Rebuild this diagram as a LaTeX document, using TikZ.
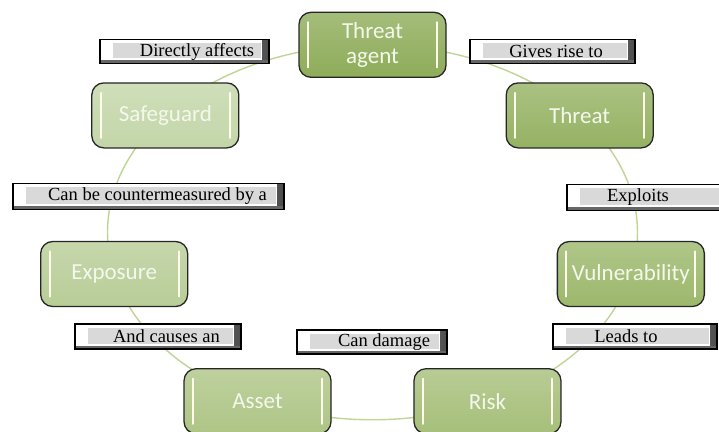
\documentclass[tikz,border=0pt]{standalone}
\usepackage{fontspec}
\setmainfont{Liberation Serif}
\newfontfamily\stagefont{Carlito}
\usetikzlibrary{backgrounds}

% palette
\definecolor{ringline}{HTML}{BFD495}
\definecolor{gAgent}{HTML}{8EAC59}
\definecolor{gThreat}{HTML}{95B263}
\definecolor{gVuln}{HTML}{9CB86C}
\definecolor{gRisk}{HTML}{A6BF7A}
\definecolor{gAsset}{HTML}{AEC586}
\definecolor{gExpo}{HTML}{B8CD97}
\definecolor{gSafe}{HTML}{C3D6A8}
\definecolor{stagetext}{HTML}{F4F8EC}
\definecolor{tagfill}{HTML}{D9D9D9}

% fixed-width caption line, text moved right by half of #2
\newcommand\tagline[3]{\makebox[#1pt]{\hspace*{#2pt}#3}}

\tikzset{
  stage/.style={
    rounded corners=12pt, draw=black!85, line width=1.3pt,
    minimum width=147pt, minimum height=65pt, inner sep=2pt,
    font=\stagefont\fontsize{23}{25}\selectfont, text=stagetext, align=center,
    top color=#1!80!white, bottom color=#1,
    path picture={
      \draw[white!92!yellow, line width=2.2pt, line cap=round]
        ([xshift=9pt,yshift=-10pt]path picture bounding box.north west) --
        ([xshift=9pt,yshift=10pt]path picture bounding box.south west);
      \draw[white!92!yellow, line width=2.2pt, line cap=round]
        ([xshift=-9pt,yshift=-10pt]path picture bounding box.north east) --
        ([xshift=-9pt,yshift=10pt]path picture bounding box.south east);
    }},
  tag/.style={
    draw=black, line width=1.2pt, fill=white, inner sep=0pt,
    minimum height=24pt, font=\fontsize{18.5}{20}\selectfont,
    path picture={
      \shade[left color=white, right color=black!70]
        ([xshift=-7pt]path picture bounding box.north east) rectangle
        (path picture bounding box.south east);
      \fill[black!60] (path picture bounding box.south west) rectangle
        ([yshift=3pt]path picture bounding box.south east);
      \fill[tagfill] ([xshift=13pt,yshift=-4pt]path picture bounding box.north west)
        rectangle ([xshift=-8pt,yshift=5pt]path picture bounding box.south east);
    }},
  ring/.style={draw=ringline, line width=1.4pt},
}

\begin{document}
\begin{tikzpicture}[x=1pt,y=1pt]
\useasboundingbox (0,0) rectangle (719,431);
\coordinate (hub) at (372.5,198.7);

% the seven stages, evenly spaced round the ellipse
\path (hub) ++(90:265 and 187.5)      node[stage=gAgent]  (agent)  {Threat\\agent};
\path (hub) ++(38.571:265 and 187.5)  node[stage=gThreat] (threat) {Threat};
\path (hub) ++(-12.857:265 and 187.5) node[stage=gVuln]   (vuln)   {Vulnerability};
\path (hub) ++(-64.286:265 and 187.5) node[stage=gRisk]   (risk)   {Risk};
\path (hub) ++(-115.714:265 and 187.5) node[stage=gAsset] (asset)  {Asset};
\path (hub) ++(192.857:265 and 187.5) node[stage=gExpo]   (expo)   {Exposure};
\path (hub) ++(141.429:265 and 187.5) node[stage=gSafe]   (safe)   {Safeguard};

% captions on the links
\node[tag, minimum width=169pt] (t1) at (184.5,379.5) {\tagline{169}{25}{Directly affects}};
\node[tag, minimum width=165pt] (t2) at (552.5,379.5) {\tagline{165}{7}{Gives rise to}};
\node[tag, minimum width=271pt, minimum height=26pt] (t3) at (148.5,234.5) {\tagline{271}{18}{Can be countermeasured by a}};
\node[tag, minimum width=170pt, minimum height=26pt] (t4) at (652,233.5) {\tagline{170}{-28}{Exploits}};
\node[tag, minimum width=166pt, minimum height=25pt] (t5) at (158,94.5) {\tagline{166}{17}{And causes an}};
\node[tag, minimum width=150pt] (t6) at (372,89) {\tagline{150}{24}{Can damage}};
\node[tag, minimum width=164pt, minimum height=25pt] (t7) at (635,94.5) {\tagline{164}{-18}{Leads to}};

% links: elliptical arcs from stage to stage
\begin{scope}[on background layer]
  \draw[ring] (agent.center)  arc[start angle=90, end angle=38.571, x radius=265, y radius=187.5];
  \draw[ring] (threat.center) arc[start angle=38.571, end angle=-12.857, x radius=265, y radius=187.5];
  \draw[ring] (vuln.center)   arc[start angle=-12.857, end angle=-64.286, x radius=265, y radius=187.5];
  \draw[ring] (risk.center)   arc[start angle=-64.286, end angle=-115.714, x radius=265, y radius=187.5];
  \draw[ring] (asset.center)  arc[start angle=-115.714, end angle=-167.143, x radius=265, y radius=187.5];
  \draw[ring] (expo.center)   arc[start angle=192.857, end angle=141.429, x radius=265, y radius=187.5];
  \draw[ring] (safe.center)   arc[start angle=141.429, end angle=90, x radius=265, y radius=187.5];
\end{scope}
\end{tikzpicture}
\end{document}
